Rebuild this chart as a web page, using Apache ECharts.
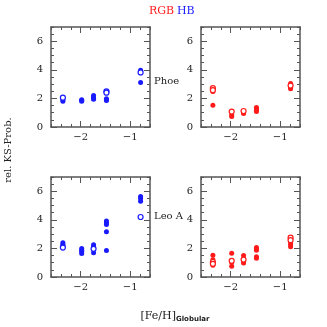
<!DOCTYPE html>
<html>
<head>
<meta charset="utf-8">
<script src="https://cdn.jsdelivr.net/npm/echarts@6/dist/echarts.min.js"></script>
<style>html,body{margin:0;padding:0;background:#fff}#c{width:327px;height:327px}</style>
</head>
<body>
<div id="c"></div>
<script>
// ---- data ----
const feH = [-2.36, -1.98, -1.74, -1.48, -0.79];          // cluster [Fe/H]
const xTickLabels = [-2, -1];
const yTickLabels = [0, 2, 4, 6];
const panelNames = ['Phoe', 'Leo A'];
const legendNames = ['RGB', 'HB'];
// [cluster index, rel. KS-prob]
const phoeHBFilled = [[0,1.9],[0,1.8],[1,1.9],[1,1.85],[1,1.8],[2,2.2],[2,2.1],[2,2.0],[2,1.95],[3,1.97],[3,1.9],[3,1.85],[4,3.98],[4,3.12]];
const phoeHBOpen = [[0,2.05],[3,2.5],[3,2.4],[4,3.82]];
const phoeRGBFilled = [[0,2.49],[0,1.52],[1,0.85],[1,0.73],[2,1.0],[2,0.94],[3,1.36],[3,1.27],[3,1.17],[3,1.08],[4,3.05],[4,2.77],[4,2.67]];
const phoeRGBOpen = [[0,2.72],[0,2.58],[1,1.08],[2,1.12],[4,2.9]];
const leoHBFilled = [[0,2.39],[0,2.27],[0,2.18],[1,1.99],[1,1.87],[1,1.76],[1,1.64],[2,2.25],[2,2.13],[2,1.69],[3,3.92],[3,3.8],[3,3.68],[3,3.17],[3,1.85],[4,5.63],[4,5.49],[4,5.3]];
const leoHBOpen = [[0,2.06],[2,1.97],[4,4.2]];
const leoRGBFilled = [[0,1.52],[0,1.2],[0,0.82],[1,1.66],[1,1.01],[1,0.75],[2,1.5],[2,1.08],[2,0.98],[3,2.06],[3,1.97],[3,1.87],[3,1.41],[3,1.31],[4,2.39],[4,2.25],[4,2.11]];
const leoRGBOpen = [[0,1.05],[0,0.92],[1,1.13],[2,1.22],[4,2.75],[4,2.58]];

// ---- styling / layout ----
const BLUE = '#1a1aff', RED = '#ff1a1a', FRAME = '#555';
const SERIF = '"DejaVu Serif", "Liberation Serif", serif';
const xMin = -2.6, xMax = -0.6, yMin = 0, yMax = 7;
const grids = [
  {left: 51, top: 27, width: 99, height: 100},
  {left: 201, top: 27, width: 99, height: 100},
  {left: 51, top: 177, width: 99, height: 100},
  {left: 201, top: 177, width: 99, height: 100}
];
const tickStyle = {color: FRAME, width: 1};
const minus = v => (v < 0 ? '\u2212' + Math.abs(v) : String(v));

const xAxes = [], yAxes = [], mainX = [], mainY = [];
function addX(gi, pos, major) {
  const a = {type: 'value', gridIndex: gi, position: pos, min: xMin, max: xMax,
    splitLine: {show: false},
    axisLine: {show: major, onZero: false, lineStyle: {color: FRAME, width: 1.5}},
    axisLabel: {show: false}};
  if (major) {
    a.axisTick = {show: true, inside: true, length: 6, customValues: xTickLabels, lineStyle: tickStyle};
    if (pos === 'bottom') a.axisLabel = {show: true, customValues: xTickLabels, formatter: minus, margin: 5,
      color: '#222', fontFamily: SERIF, fontSize: 10};
  } else {
    a.interval = 0.2;
    a.axisTick = {show: true, inside: true, length: 3, lineStyle: tickStyle};
  }
  xAxes.push(a);
  return xAxes.length - 1;
}
function addY(gi, pos, major) {
  const a = {type: 'value', gridIndex: gi, position: pos, min: yMin, max: yMax,
    splitLine: {show: false},
    axisLine: {show: major, onZero: false, lineStyle: {color: FRAME, width: 1.5}},
    axisLabel: {show: false}};
  if (major) {
    a.axisTick = {show: true, inside: true, length: 6, customValues: yTickLabels, lineStyle: tickStyle};
    if (pos === 'left') a.axisLabel = {show: true, customValues: yTickLabels, margin: 8,
      color: '#222', fontFamily: SERIF, fontSize: 10};
  } else {
    a.interval = 0.5;
    a.axisTick = {show: true, inside: true, length: 3, lineStyle: tickStyle};
  }
  yAxes.push(a);
  return yAxes.length - 1;
}
grids.forEach((g, gi) => {
  mainX.push(addX(gi, 'bottom', true));
  addX(gi, 'bottom', false);
  addX(gi, 'top', true);
  addX(gi, 'top', false);
  mainY.push(addY(gi, 'left', true));
  addY(gi, 'left', false);
  addY(gi, 'right', true);
  addY(gi, 'right', false);
});

const toXY = arr => arr.map(d => [feH[d[0]], d[1]]);
function sc(gi, data, color, open) {
  return {type: 'scatter', xAxisIndex: mainX[gi], yAxisIndex: mainY[gi],
    data: toXY(data), symbol: 'circle', symbolSize: 5,
    itemStyle: open ? {color: '#fff', borderColor: color, borderWidth: 1.2, opacity: 1}
                    : {color: color, opacity: 1},
    silent: true, animation: false, z: open ? 3 : 2};
}
const series = [
  sc(0, phoeHBFilled, BLUE, false), sc(0, phoeHBOpen, BLUE, true),
  sc(1, phoeRGBFilled, RED, false), sc(1, phoeRGBOpen, RED, true),
  sc(2, leoHBFilled, BLUE, false), sc(2, leoHBOpen, BLUE, true),
  sc(3, leoRGBFilled, RED, false), sc(3, leoRGBOpen, RED, true)
];

const chart = echarts.init(document.getElementById('c'), null, {renderer: 'canvas'});
chart.setOption({
  backgroundColor: '#fff',
  animation: false,
  grid: grids,
  xAxis: xAxes,
  yAxis: yAxes,
  series: series,
  graphic: [
    {type: 'text', left: 149, top: 6, style: {text: legendNames[0], fill: RED, font: '11px ' + SERIF}},
    {type: 'text', left: 177, top: 6, style: {text: legendNames[1], fill: BLUE, font: '11px ' + SERIF}},
    {type: 'text', left: 154, top: 76, style: {text: panelNames[0], fill: '#222', font: '10px ' + SERIF}},
    {type: 'text', left: 154, top: 211, style: {text: panelNames[1], fill: '#222', font: '10px ' + SERIF}},
    {type: 'text', x: 8, y: 150, rotation: Math.PI / 2,
      style: {text: 'rel. KS-Prob.', fill: '#222', font: '10px ' + SERIF, align: 'center', verticalAlign: 'middle'}},
    {type: 'text', x: 175, y: 316,
      style: {text: '{a|[Fe/H]}{b|Globular}', align: 'center', verticalAlign: 'middle',
        rich: {a: {fontFamily: SERIF, fontSize: 11, fill: '#222', color: '#222'},
               b: {fontFamily: '"DejaVu Sans", sans-serif', fontSize: 7, fontWeight: 'bold', color: '#222', fill: '#222', padding: [6, 0, 0, 0]}}}}
  ]
});
</script>
</body>
</html>
